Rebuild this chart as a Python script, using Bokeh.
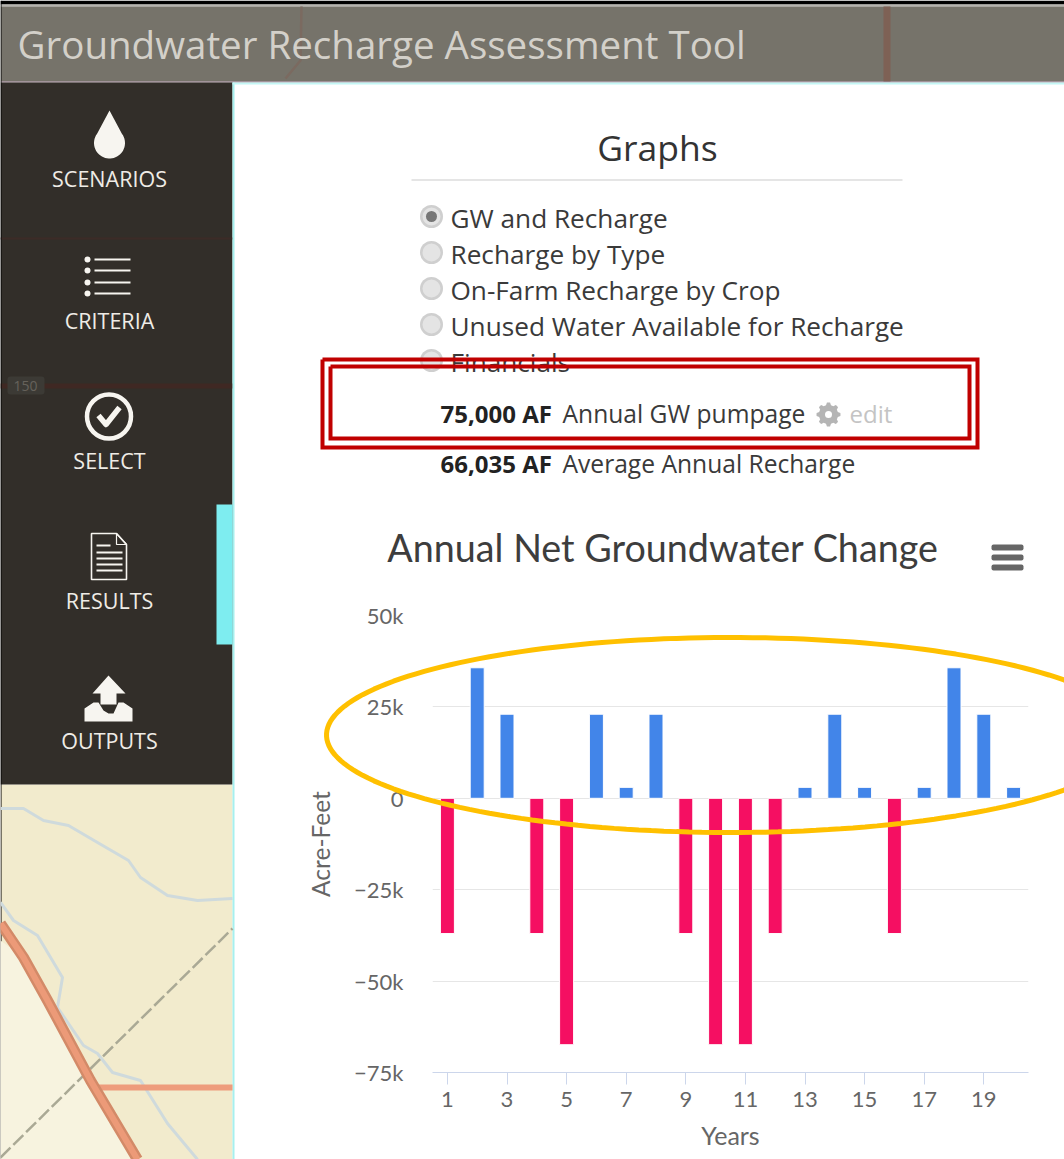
import numpy as np
from bokeh.core.properties import value
from bokeh.embed import file_html
from bokeh.layouts import column
from bokeh.resources import INLINE
from bokeh.plotting import figure
from bokeh.models import FixedTicker, Range1d, ColumnDataSource

years = list(range(1, 21))
net_change = [-37000, 35700, 23000, -37000, -67400, 23000, 3000, 23000, -37000, -67400,
              -67400, -37000, 3000, 23000, 3000, -37000, 3000, 35700, 23000, 3000]
y_ticks = [50000, 25000, 0, -25000, -50000, -75000]
y_labels = ["50k", "25k", "0", "\u221225k", "\u221250k", "\u221275k"]
x_ticks = [1, 3, 5, 7, 9, 11, 13, 15, 17, 19]
nav_items = ["SCENARIOS", "CRITERIA", "SELECT", "RESULTS", "OUTPUTS"]
radio_items = ["GW and Recharge", "Recharge by Type", "On-Farm Recharge by Crop",
               "Unused Water Available for Recharge", "Financials"]

W, H = 1064, 1159
FL, FR, FT, FB = 432, 1028, 615, 1072

def pixel_figure(transparent):
    f = figure(width=W, height=H, output_backend="svg", toolbar_location=None,
               x_range=Range1d(0, W), y_range=Range1d(H, 0), x_axis_type=None, y_axis_type=None,
               min_border=0, outline_line_color=None, frame_align=False,
               background_fill_color=None if transparent else "white",
               border_fill_color=None if transparent else "white")
    f.grid.visible = False
    return f

bg = pixel_figure(False)
p = figure(width=W, height=H, output_backend="svg", toolbar_location=None, frame_align=False,
           x_range=Range1d(0.5, 20.5), y_range=Range1d(-75000, 50000),
           min_border_left=FL, min_border_right=W - FR, min_border_top=FT, min_border_bottom=H - FB,
           background_fill_color=None, border_fill_color=None, outline_line_color=None)
over = pixel_figure(True)
layer = {"position": "absolute", "left": "0px", "top": "0px"}
p.styles = layer
over.styles = layer

def box(l, t, r, b, color, radius=0):
    bg.quad(left=[l], right=[r], top=[t], bottom=[b], fill_color=color, line_color=None,
            border_radius=radius)

def poly(xs, ys, fill=None, line=None, lw=1):
    bg.patch(list(map(float, xs)), list(map(float, ys)), fill_color=fill, line_color=line, line_width=lw)

def path(pts, width, color, dash="solid", target=None):
    a = np.array(pts, float)
    (target or bg).line(a[:, 0], a[:, 1], line_width=width, line_color=color, line_dash=dash, line_join="round")

def circle(cx, cy, r, fill=None, line=None, lw=1):
    bg.circle([cx], [cy], radius=r, fill_color=fill, line_color=line, line_width=lw)

def text(x, y, s, size, color, font="Open Sans", align="left", style="normal", baseline="middle"):
    bg.text([x], [y - 2], text=[s], text_font=value(font), text_font_size=f"{size}px", text_color=color,
            text_align=align, text_baseline=baseline, text_font_style=style)

# ---------- backgrounds ----------
box(0, 0, W, 4, "#000000")
box(0, 4, W, 6, "#b5b3ad")
box(0, 6, W, 81, "#76736a")
box(883, 6, 890, 81, "#7e6155")
path([(301, 6), (300, 60), (285, 78)], 2.5, "#7b6a60")
box(0, 81, W, 82, "#8a6f80")
box(0, 784, 232, H, "#f2ebcd")
box(0, 82, 232, 784, "#322e29")
box(0, 237, 232, 239, "#3c2b27")
box(0, 383, 232, 388, "#3f2823")
box(7, 376, 44, 394, "#3c3a35", radius=3)
box(232, 82, 234, H, "#a6f0ee")
box(232, 82, W, 84, "#c4f7f6")
box(216, 504, 232, 644, "#7eedf0")
box(0, 0, 1, H, "#000000")

# map
poly([0, 23, 47, 90, 137, 0], [940, 957, 1000, 1080, 1159, 1159], fill="#f7f3df")
path(np.array([(0, 48), (23, 48), (43, 60), (68, 65), (97, 82), (128, 100), (140, 117), (167, 135), (197, 140), (232, 138)]) + [0, 760],
     3, "#cfdadc")
path(np.array([(0, 142), (13, 160), (37, 175), (62, 217), (57, 247), (83, 285), (97, 293), (112, 312), (140, 320), (167, 363), (197, 399)]) + [0, 760],
     3, "#cfdadc")
path([(0, 1157), (232, 928)], 2.5, "#aaa995", dash="14 4")
path([(90, 1087), (232, 1087)], 6, "#ee9c7c")
road = [(0, 923), (23, 957), (47, 1000), (90, 1080), (137, 1159)]
path(road, 11, "#d38a68")
path(road, 6, "#ec9a78")

# ---------- header / nav ----------
text(17, 45, "Groundwater Recharge Assessment Tool", 38.5, "#d3d0c9")
text(25, 387, "150", 14, "#66625b", align="center")

nav_y = [180, 322, 462, 602, 742]
for s, y in zip(nav_items, nav_y):
    text(109, y, s, 21.5, "#efece6", align="center")

WHITE = "#f7f5f0"
# droplet
t = np.linspace(-0.2 * np.pi, 1.2 * np.pi, 40)
poly(np.r_[109, 109 + 15.5 * np.cos(t)], np.r_[110, 142.5 + 15.5 * np.sin(t)], fill=WHITE)
# list
for y in [259, 270, 282, 293]:
    circle(87, y, 3, fill=WHITE)
    box(94, y - 1, 130, y + 1, WHITE)
# check
circle(108.5, 416, 22, line=WHITE, lw=4.5)
path([(98, 415), (105.5, 424), (119, 407)], 5.5, WHITE)
# document
poly([91, 116, 126, 126, 91], [533, 533, 544, 579, 579], line=WHITE, lw=1.6)
poly([116, 116, 126], [533, 544, 544], line=WHITE, lw=1.2)
box(96, 544, 110, 546, WHITE)
for y in [552, 558, 564, 570]:
    box(96, y - 1, 122, y + 1, WHITE)
# outputs
poly([108, 92, 100, 100, 116, 116, 125], [675, 693, 693, 704, 704, 693, 693], fill=WHITE)
poly([84, 93, 98, 103, 108, 113, 118, 123, 132, 132, 84], [708, 702, 702, 710, 713, 713, 702, 702, 708, 721, 721], fill=WHITE)

# ---------- panel ----------
text(657, 148, "Graphs", 35.5, "#333333", align="center")
box(411, 179, 902, 180, "#cccccc")

radio_y = [216, 252, 288, 324, 360]
text_y = [219, 255, 291, 327, 363]
for s, y, ty in zip(radio_items, radio_y, text_y):
    circle(431, y, 11.5, fill="#cfcfcf")
    circle(431, y, 9, fill="#e4e4e4")
    text(450, ty, s, 26.2, "#3a3a3a")
circle(431, 216, 5.5, fill="#777777")

text(440, 415, "75,000 AF", 24, "#222222", style="bold")
text(562, 415, "Annual GW pumpage", 24.6, "#3a3a3a")
text(849, 415, "edit", 24, "#c4c4c4")
t = np.linspace(0, 2 * np.pi, 48, endpoint=False)
r = 12 - 2.4 * (np.cos(8 * t) < 0)
poly(828 + r * np.cos(t), 414 + r * np.sin(t), fill="#b5b5b5")
circle(828, 414, 3.5, fill="#ffffff")
text(440, 465, "66,035 AF", 24, "#222222", style="bold")
text(562, 465, "Average Annual Recharge", 24.6, "#3a3a3a")

text(662.5, 549, "Annual Net Groundwater Change", 37.7, "#3d3d3d", font="Lato", align="center")
for y in [544, 554, 564]:
    box(991, y, 1023, y + 6, "#666666", radius=2)

# ---------- chart ----------
src = ColumnDataSource(dict(
    x=years, top=[max(v, 0) for v in net_change], bottom=[min(v, 0) for v in net_change],
    color=["#f50f62" if v < 0 else "#4285e9" for v in net_change]))
p.vbar(x="x", top="top", bottom="bottom", width=0.47, fill_color="color", line_color="white", line_width=1, source=src)

xa, ya = p.xaxis[0], p.yaxis[0]
xa.ticker = FixedTicker(ticks=x_ticks)
xa.minor_tick_line_color = None
xa.axis_line_color = "#ccd6eb"
xa.major_tick_line_color = "#ccd6eb"
xa.major_tick_out = 12
xa.major_tick_in = 0
xa.major_label_text_font = "Lato"
xa.major_label_text_font_size = "22px"
xa.major_label_text_color = "#666666"
xa.major_label_standoff = 7
xa.axis_label = "Years"
xa.axis_label_text_font = "Lato"
xa.axis_label_text_font_size = "25px"
xa.axis_label_text_font_style = "normal"
xa.axis_label_text_color = "#666666"
xa.axis_label_standoff = 10

ya.ticker = FixedTicker(ticks=y_ticks)
ya.major_label_overrides = dict(zip(y_ticks, y_labels))
ya.minor_tick_line_color = None
ya.major_tick_line_color = None
ya.axis_line_color = None
ya.major_label_text_font = "Lato"
ya.major_label_text_font_size = "22px"
ya.major_label_text_color = "#666666"
ya.major_label_standoff = 23
ya.axis_label = "Acre-Feet"
ya.axis_label_text_font = "Lato"
ya.axis_label_text_font_size = "24.5px"
ya.axis_label_text_font_style = "normal"
ya.axis_label_text_color = "#666666"
ya.axis_label_standoff = 16

p.xgrid.grid_line_color = None
p.ygrid.ticker = FixedTicker(ticks=y_ticks)
p.ygrid.grid_line_color = "#e6e6e6"
p.ygrid.grid_line_width = 1

# ---------- overlays ----------
t = np.linspace(0, 2 * np.pi, 200)
over.line(730 + 404 * np.cos(t), 734.5 + 97.5 * np.sin(t), line_color="#ffc000", line_width=5)
for l, r_, t_, b_ in [(322, 977, 359, 447), (330, 969, 366, 438)]:
    over.line([l, r_, r_, l, l], [t_, t_, b_, b_, t_], line_color="#c00000", line_width=4, line_join="miter")

root = column(bg, p, over, width=W, height=H)
open("out.html", "w").write(file_html(root, INLINE))
